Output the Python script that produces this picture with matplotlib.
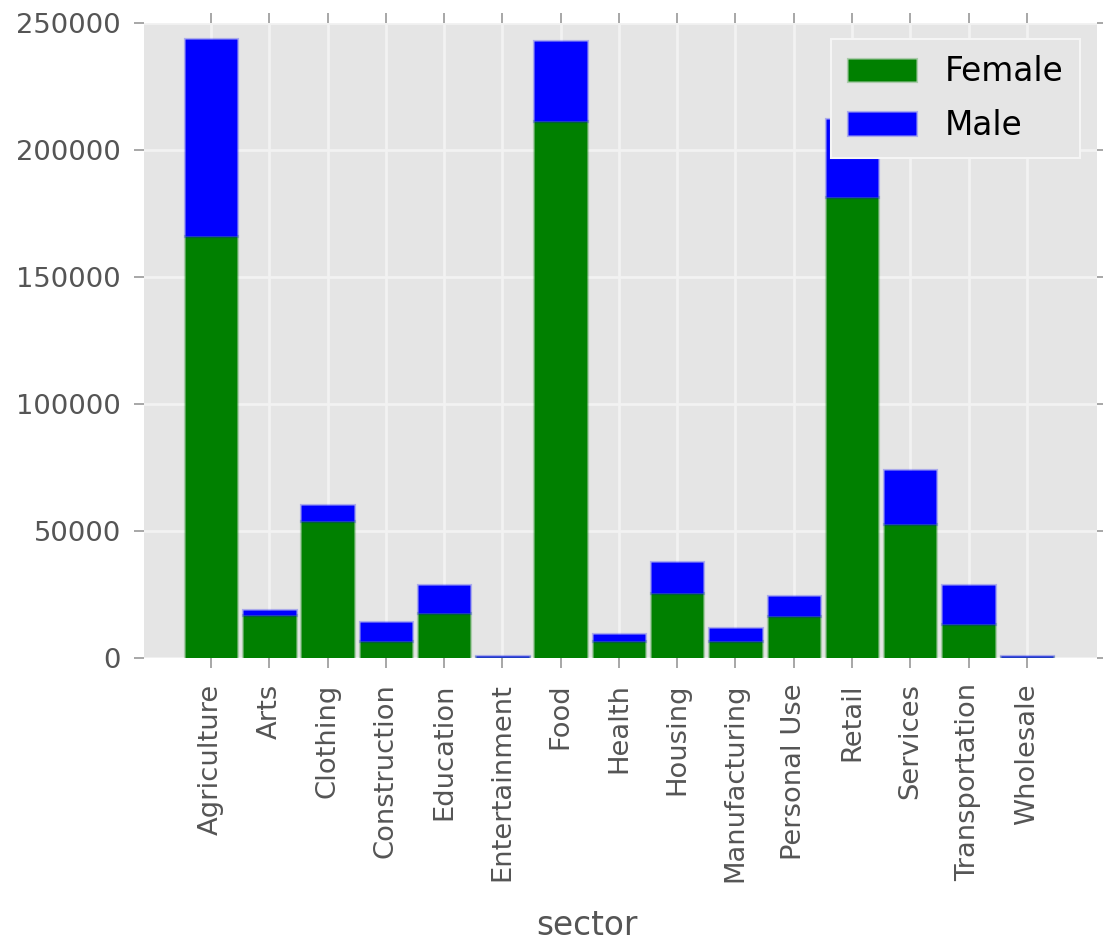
import numpy as np
import matplotlib
matplotlib.use('Agg')  # no display
import matplotlib.pyplot as plt

# data (loan counts per sector, split by gender)
sectors = ['Agriculture', 'Arts', 'Clothing', 'Construction', 'Education',
           'Entertainment', 'Food', 'Health', 'Housing', 'Manufacturing',
           'Personal Use', 'Retail', 'Services', 'Transportation', 'Wholesale']
female = [166100, 16800, 53700, 6400, 17500, 200, 211200, 6400, 25300,
          6400, 16400, 181500, 52500, 13100, 200]
male = [77500, 1800, 6500, 7800, 11200, 400, 31500, 3000, 12500,
        5400, 7900, 30600, 21300, 15600, 300]
y_ticks = [0, 50000, 100000, 150000, 200000, 250000]

bg = '#E5E5E5'
tick_col = '#555555'

fig = plt.figure(figsize=(11.03, 9.41), dpi=100)
ax = fig.add_axes([0.1306, 0.3011, 0.8637, 0.6748])
ax.set_facecolor(bg)
ax.set_axisbelow(True)

x = np.arange(len(sectors))
ax.bar(x, female, width=0.9, color='#008000',
       edgecolor=(0, 0.5, 0, 0.25), linewidth=2.3, label='Female')
ax.bar(x, male, width=0.9, bottom=female, color='#0000FF',
       edgecolor=(0, 0, 1, 0.25), linewidth=2.3, label='Male')

# axes limits and ticks
ax.set_xlim(-1.15, 15.2)
ax.set_ylim(0, 250000)
ax.set_yticks(y_ticks)
ax.set_xticks(x)
ax.set_xticklabels(sectors, rotation=90)

ax.grid(True, color='#F2F2F2', linewidth=2)
for sp in ax.spines.values():
    sp.set_visible(False)

ax.tick_params(axis='both', direction='out', length=7.5, width=1.3,
               color='#A0A0A0', labelcolor=tick_col, labelsize=19.7,
               top=True, right=True)
ax.tick_params(axis='y', pad=9)
ax.tick_params(axis='x', pad=11)

ax.set_xlabel('sector', fontsize=23.6, color=tick_col)
ax.xaxis.set_label_coords(0.465, -0.396)

# legend sits on top of the Retail bar, opaque like the reference
leg = ax.legend(loc='upper right', fontsize=23.6, fancybox=False,
                framealpha=1.0, borderpad=0.5, labelspacing=0.62,
                handlelength=2.1, handletextpad=0.88)
leg.get_frame().set_facecolor(bg)
leg.get_frame().set_edgecolor('#F5F5F5')
leg.get_frame().set_linewidth(1.5)

fig.savefig('out.png', dpi=100, facecolor='white')
plt.close()
